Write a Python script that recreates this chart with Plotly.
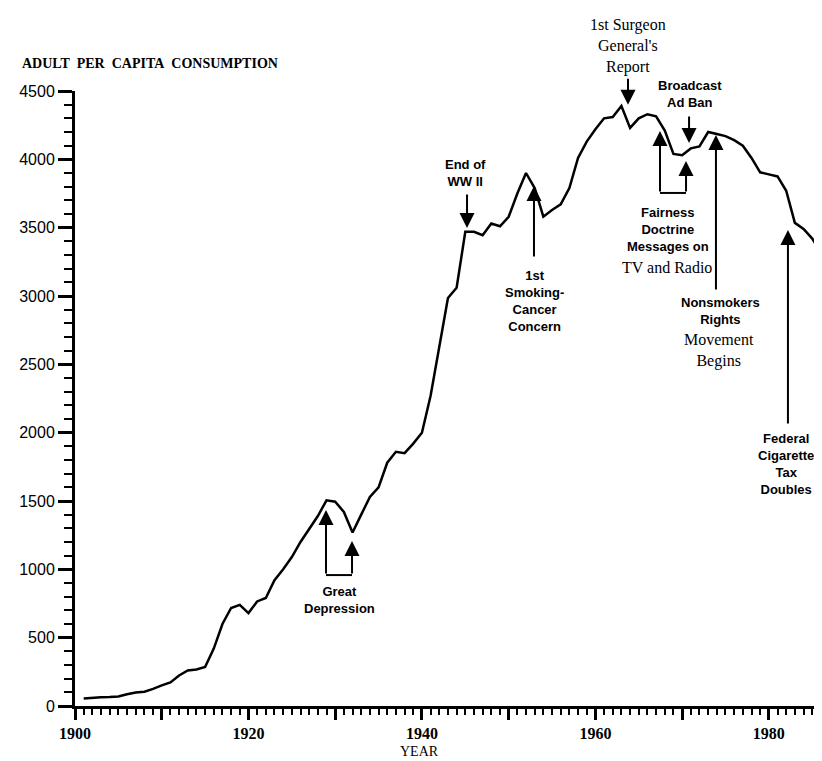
import plotly.graph_objects as go

# adult per capita cigarette consumption
years = list(range(1901, 1988))
consumption = [
    54, 60, 64, 66, 70, 86, 99, 105, 125, 151,            # 1901-1910
    173, 223, 260, 267, 285, 420, 600, 717, 740, 680,     # 1911-1920
    765, 790, 920, 1000, 1090, 1200, 1300, 1390, 1505, 1495,   # 1921-1930
    1420, 1270, 1400, 1530, 1600, 1780, 1860, 1850, 1920, 2000,  # 1931-1940
    2270, 2620, 2985, 3060, 3470, 3470, 3445, 3530, 3510, 3580,  # 1941-1950
    3750, 3900, 3790, 3580, 3630, 3670, 3790, 4010, 4130, 4220,  # 1951-1960
    4300, 4310, 4390, 4230, 4300, 4330, 4315, 4210, 4040, 4030,  # 1961-1970
    4080, 4095, 4200, 4185, 4170, 4140, 4100, 4010, 3905, 3890,  # 1971-1980
    3875, 3770, 3535, 3490, 3420, 3320, 3250,                    # 1981-1987
]

x_ticks = list(range(1900, 1990, 10))
x_labels = ['1900', '', '1920', '', '1940', '', '1960', '', '1980']
y_ticks = list(range(0, 5000, 500))

SANS = "Liberation Sans, Arial, sans-serif"
SERIF = "Liberation Serif, Times New Roman, serif"

fig = go.Figure()
fig.add_trace(go.Scatter(x=years, y=consumption, mode='lines',
                         line=dict(color='black', width=2.5), hoverinfo='skip'))

# event labels (text, year, value, font)
bold = dict(family=SANS, size=13, color='black', weight='bold')
serif = dict(family=SERIF, size=16, color='black')
labels = [
    ("Great<br>Depression", 1930.55, 776, bold),
    ("End of<br>WW II", 1944.97, 3900, bold),
    ("1st<br>Smoking-<br>Cancer<br>Concern", 1953.0, 2963, bold),
    ("Broadcast<br>Ad Ban", 1970.9, 4478, bold),
    ("Fairness<br>Doctrine<br>Messages on", 1968.37, 3490, bold),
    ("TV and Radio", 1968.26, 3205, serif),
    ("Nonsmokers<br>Rights", 1974.37, 2890, bold),
    ("Movement<br>Begins", 1974.25, 2598, serif),
    ("Federal<br>Cigarette<br>Tax<br>Doubles", 1981.98, 1771, bold),
]
for txt, xx, yy, f in labels:
    fig.add_annotation(x=xx, y=yy, text=txt, showarrow=False, font=f,
                       xanchor='center', yanchor='middle', align='center')

# this one sits above the top of the axis
fig.add_annotation(x=1963.76, y=1.073, yref='paper', text="1st Surgeon<br>General's<br>Report",
                   showarrow=False, font=serif, xanchor='center', yanchor='middle')

# arrows: (year, tail value, tip value)
arrows = [
    (1928.94, 958, 1434),
    (1931.94, 958, 1207),
    (1945.2, 3754, 3497),
    (1952.92, 3278, 3805),
    (1963.76, 4600, 4400),
    (1970.8, 4324, 4119),
    (1967.45, 3754, 4207),
    (1970.45, 3754, 3988),
    (1973.9, 3036, 4178),
    (1982.2, 2056, 3483),
]
for xx, tail, tip in arrows:
    fig.add_annotation(x=xx, y=tip, ax=xx, ay=tail, axref='x', ayref='y',
                       text='', showarrow=True, arrowhead=2, arrowsize=1.5,
                       arrowwidth=2, arrowcolor='black', standoff=0)

# brackets joining the paired arrows
for x0, x1, yy in [(1928.94, 1931.94, 958), (1967.45, 1970.45, 3754)]:
    fig.add_shape(type='line', x0=x0, x1=x1, y0=yy, y1=yy,
                  line=dict(color='black', width=2))

fig.add_annotation(x=-0.073, y=1.045, xref='paper', yref='paper',
                   text="ADULT\u00a0\u00a0PER\u00a0\u00a0CAPITA\u00a0\u00a0CONSUMPTION",
                   showarrow=False, xanchor='left', yanchor='middle',
                   font=dict(family=SERIF, size=14, color='black', weight='bold'))
fig.add_annotation(x=0.456, y=-0.074, xref='paper', yref='paper', text="YEAR",
                   showarrow=False, xanchor='center', yanchor='middle',
                   font=dict(family=SERIF, size=14, color='black'))

fig.update_layout(
    width=822, height=761,
    margin=dict(l=67, r=0, t=83, b=63),
    plot_bgcolor='white', paper_bgcolor='white',
    showlegend=False,
    xaxis=dict(range=[1900, 1987.05], tickvals=x_ticks, ticktext=x_labels,
               ticks='outside', ticklen=11, tickwidth=2.5, tickcolor='black',
               showline=True, linewidth=3, linecolor='black',
               showgrid=False, zeroline=False, automargin=False,
               tickfont=dict(family=SERIF, size=16, color='black', weight='bold'),
               minor=dict(dtick=1, ticks='outside', ticklen=6, tickwidth=2,
                          tickcolor='black', showgrid=False)),
    yaxis=dict(range=[0, 4500], tickvals=y_ticks,
               ticks='outside', ticklen=14, tickwidth=2.5, tickcolor='black',
               showline=True, linewidth=3, linecolor='black',
               showgrid=False, zeroline=False, automargin=False,
               tickfont=dict(family=SANS, size=16, color='black'),
               minor=dict(dtick=100, ticks='outside', ticklen=8, tickwidth=2,
                          tickcolor='black', showgrid=False)),
)

fig.write_html("out.html")
